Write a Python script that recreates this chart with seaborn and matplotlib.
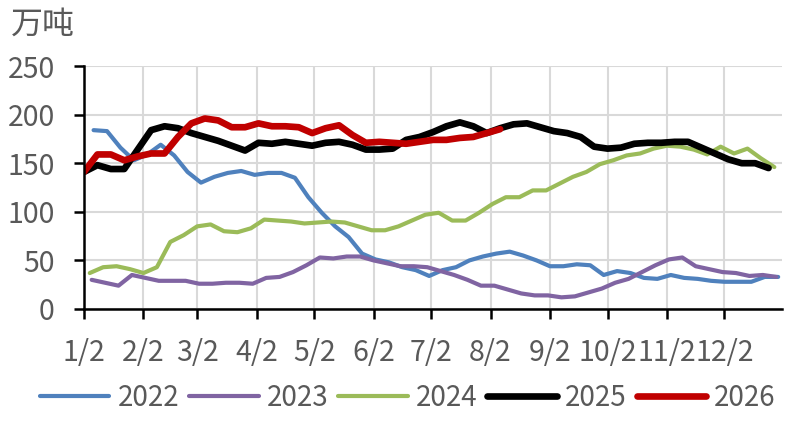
import numpy as np
import pandas as pd
import matplotlib
matplotlib.use("Agg")
import matplotlib.pyplot as plt
import seaborn as sns

# ---------------- data ----------------
series_names = ["2022", "2023", "2024", "2025", "2026"]
start_dates = {"2022": "2021-01-07", "2023": "2021-01-06", "2024": "2021-01-05",
               "2025": "2021-01-02", "2026": "2021-01-02"}

v2022 = [184, 183, 166, 153, 159, 169, 158, 141, 130, 136, 140, 142, 138, 140, 140, 135,
         115, 99, 85, 74, 57, 51, 48, 43, 40, 34, 40, 43, 50, 54, 57, 59, 55, 50, 44, 44,
         46, 45, 35, 39, 37, 32, 31, 35, 32, 31, 29, 28, 28, 28, 33, 33]
v2023 = [30, 27, 24, 35, 32, 29, 29, 29, 26, 26, 27, 27, 26, 32, 33, 38, 45, 53, 52, 54,
         54, 50, 47, 44, 44, 43, 39, 35, 30, 24, 24, 20, 16, 14, 14, 12, 13, 17, 21, 27,
         31, 38, 45, 51, 53, 44, 41, 38, 37, 34, 35, 33]
v2024 = [37, 43, 44, 41, 37, 43, 69, 76, 85, 87, 80, 79, 83, 92, 91, 90, 88, 89, 90, 89,
         85, 81, 81, 85, 91, 97, 99, 91, 91, 99, 108, 115, 115, 122, 122, 129, 136, 141,
         149, 153, 158, 160, 165, 168, 167, 164, 159, 167, 160, 165, 155, 146]
v2025 = [141, 148, 144, 144, 164, 184, 188, 186, 181, 177, 173, 168, 163, 171, 170, 172,
         170, 168, 171, 172, 169, 164, 164, 165, 174, 177, 182, 188, 192, 188, 181, 186,
         190, 191, 187, 183, 181, 177, 167, 165, 166, 170, 171, 171, 172, 172, 166, 160,
         154, 150, 150, 145]
v2026 = [141, 159, 159, 153, 157, 160, 160, 177, 191, 196, 194, 187, 187, 191, 188, 188,
         187, 181, 186, 189, 179, 171, 172, 171, 170, 172, 174, 174, 176, 177, 181, 185]

values = {"2022": v2022, "2023": v2023, "2024": v2024, "2025": v2025, "2026": v2026}

tick_dates = ["2021-01-02", "2021-02-02", "2021-03-02", "2021-04-02", "2021-05-02",
              "2021-06-02", "2021-07-02", "2021-08-02", "2021-09-02", "2021-10-02",
              "2021-11-02", "2021-12-02"]
tick_labels = ["1/2", "2/2", "3/2", "4/2", "5/2", "6/2", "7/2", "8/2", "9/2", "10/2",
               "11/2", "12/2"]
y_ticks = [0, 50, 100, 150, 200, 250]
unit_label = "万吨"

# ---------------- styles ----------------
colors = {"2022": "#4F81BD", "2023": "#8064A2", "2024": "#9BBB59",
          "2025": "#000000", "2026": "#C00000"}
widths = {"2022": 3.0, "2023": 3.0, "2024": 3.0, "2025": 4.8, "2026": 4.8}
text_color = "#595959"

frames = []
for name in series_names:
    vals = values[name]
    dates = pd.date_range(start_dates[name], periods=len(vals), freq="7D")
    frames.append(pd.DataFrame({"date": dates, "value": vals, "year": name}))
df = pd.concat(frames, ignore_index=True)

sns.set_theme(style="white")
plt.rcParams["font.family"] = ["Noto Sans CJK SC", "DejaVu Sans"]

fig = plt.figure(figsize=(7.9, 4.22), dpi=100)
ax = fig.add_axes([84 / 790, 1 - 309 / 422, (782 - 84) / 790, (309 - 66) / 422])

handles = []
for name in series_names:
    sub = df[df["year"] == name]
    sns.lineplot(data=sub, x="date", y="value", ax=ax, color=colors[name],
                 linewidth=widths[name], legend=False, solid_capstyle="round",
                 solid_joinstyle="round")
    handles.append(plt.Line2D([0], [0], color=colors[name], linewidth=widths[name],
                              solid_capstyle="round"))

ax.set_xlim(pd.Timestamp("2021-01-02"), pd.Timestamp("2022-01-01"))
ax.set_ylim(0, 250)
ax.set_xticks([pd.Timestamp(d) for d in tick_dates])
ax.set_xticklabels(tick_labels)
ax.set_yticks(y_ticks)
ax.set_xlabel("")
ax.set_ylabel("")

ax.grid(True, color="#D9D9D9", linewidth=1.5)
ax.set_axisbelow(True)
for s in ["top", "right"]:
    ax.spines[s].set_visible(False)
for s in ["left", "bottom"]:
    ax.spines[s].set_color("black")
    ax.spines[s].set_linewidth(1.8)
    ax.spines[s].set_zorder(5)

ax.tick_params(axis="y", direction="out", length=7, width=1.8, color="black",
               labelsize=20.5, labelcolor=text_color, pad=14, left=True)
ax.tick_params(axis="x", direction="out", length=7, width=1.8, color="black",
               labelsize=20.5, labelcolor=text_color, pad=14, bottom=True)

fig.text(11 / 790, 1 - 25 / 422, unit_label, fontsize=23, color=text_color,
         ha="left", va="center")

leg = fig.legend(handles, series_names, loc="center", bbox_to_anchor=(408 / 790, 1 - 398 / 422),
                 ncol=5, frameon=False, fontsize=20, handlelength=2.5,
                 handletextpad=0.3, columnspacing=0.35, labelcolor=text_color)

fig.savefig("out.png", dpi=100)
